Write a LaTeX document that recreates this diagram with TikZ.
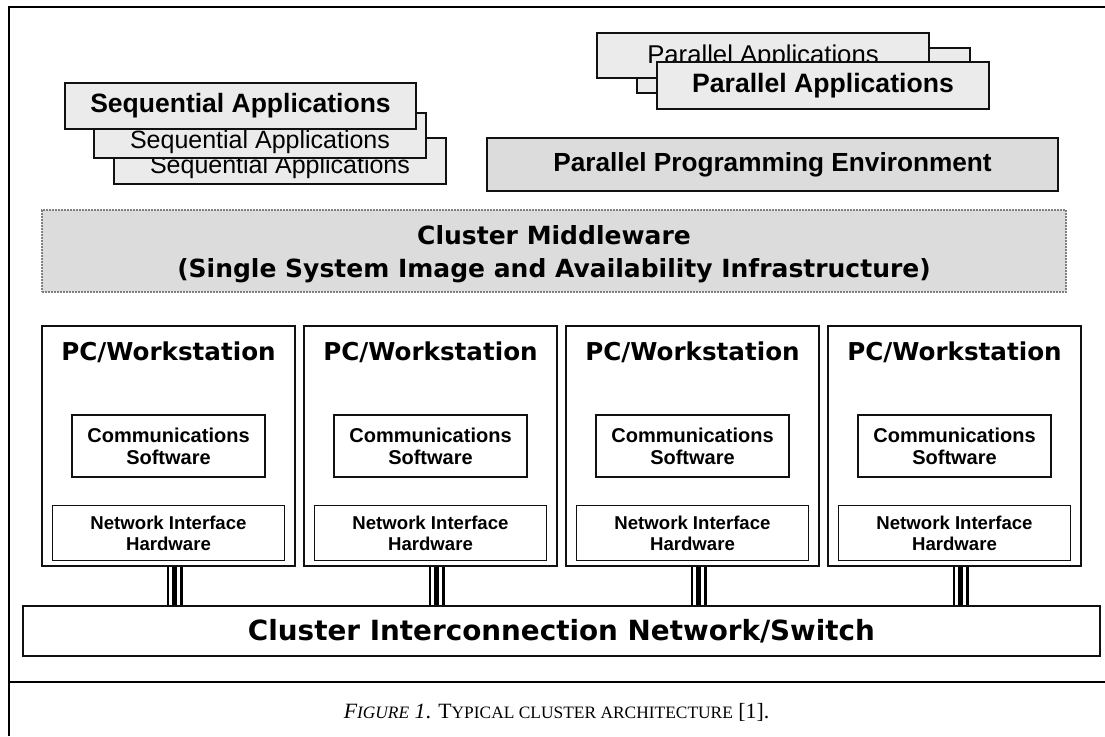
\documentclass[tikz,border=0pt]{standalone}
\usepackage{fontspec}
\setmainfont{Liberation Sans}
\newfontfamily\tahoma{DejaVu Sans}
\newfontfamily\timesf{Liberation Serif}
\definecolor{lightfill}{HTML}{EBEBEB}
\definecolor{midfill}{HTML}{DCDCDC}
\definecolor{edge}{HTML}{111111}
\definecolor{mwedge}{HTML}{808080}
\newcommand\fsz[1]{\fontsize{#1}{#1}\selectfont}
\newcommand\capsz[1]{{\fsz{17.4}#1}}
\tikzset{
  appbox/.style={draw=edge, line width=1.6pt, fill=lightfill, inner sep=0pt, align=center},
  envbox/.style={draw=edge, line width=1.6pt, fill=midfill, inner sep=0pt, align=center},
  mwbox/.style={draw=mwedge, line width=1.3pt, dash pattern=on 2pt off 1pt, fill=midfill, inner sep=0pt, align=center},
  pcbox/.style={draw=edge, line width=1.5pt, fill=white, minimum width=253pt, minimum height=240pt, inner sep=0pt},
  csbox/.style={draw=edge, line width=1.5pt, fill=white, minimum width=193pt, minimum height=62pt, inner sep=0pt, align=center, font=\bfseries\fsz{20}, text depth=0pt},
  nibox/.style={draw=edge, line width=1.5pt, fill=white, minimum width=232pt, minimum height=55pt, inner sep=0pt, align=center, font=\bfseries\fsz{18.6}},
  pctitle/.style={font=\tahoma\bfseries\fsz{24.6}, inner sep=0pt},
  mwtext/.style={font=\tahoma\bfseries\fsz{25}, inner sep=0pt, anchor=base},
  apptext/.style={inner sep=0pt, anchor=base},
  frameline/.style={line width=2.6pt, black},
  busouter/.style={line width=16pt, black},
  businner/.style={line width=11pt, white},
  buscore/.style={line width=5pt, black},
}
\begin{document}
\begin{tikzpicture}[x=1pt,y=-1pt]
\useasboundingbox (0,0) rectangle (1105,736);
\fill[white] (0,0) rectangle (1105,736);
% frame
\coordinate (ftl) at (9,7);
\coordinate (ftr) at (1105,7);
\coordinate (fbl) at (9,736);
\coordinate (fdl) at (9,682);
\coordinate (fdr) at (1105,682);
\draw[frameline] (fbl) -- (ftl) -- (ftr);
\draw[frameline] (fdl) -- (fdr);

% Sequential applications stack
\node[appbox, minimum width=332pt, minimum height=46pt] (seq3) at (280,161) {};
\node[apptext, font=\fsz{25}] (seq3t) at (280,173) {Sequential Applications};
\node[appbox, minimum width=332pt, minimum height=45pt] (seq2) at (260,135.5) {};
\node[apptext, font=\fsz{25}] (seq2t) at (260,148) {Sequential Applications};
\node[appbox, minimum width=351pt, minimum height=46pt, font=\bfseries\fsz{26.5}] (seq1) at (240.5,106) {Sequential Applications};

% Parallel applications stack
\node[appbox, minimum width=333pt, minimum height=45pt] (par2) at (803.5,70.5) {};
\node[appbox, minimum width=332pt, minimum height=45pt] (par3) at (763,55.5) {};
\node[apptext, font=\fsz{25.7}] (par3t) at (763,63) {Parallel Applications};
\node[appbox, minimum width=332pt, minimum height=47pt, font=\bfseries\fsz{26.6}] (par1) at (823,85.5) {Parallel Applications};

% Parallel programming environment
\node[envbox, minimum width=571pt, minimum height=53pt, font=\bfseries\fsz{26.2}] (ppe) at (772.5,164.5) {Parallel Programming Environment};

% Middleware
\node[mwbox, minimum width=1024pt, minimum height=82pt] (mw) at (554,251) {};
\node[mwtext] (mw1) at (554,244) {Cluster Middleware};
\node[mwtext] (mw2) at (554,277) {(Single System Image and Availability Infrastructure)};

% PC workstations
\foreach \i/\xl in {1/42,2/304,3/566,4/828}{
  \node[pcbox] (pc\i) at (\xl+126.5,446) {};
  \node[pctitle] (pct\i) at (\xl+126.5,352) {PC/Workstation};
  \node[csbox] (cs\i) at (\xl+126.5,446) {Communications\\[2pt]Software};
  \node[nibox] (ni\i) at (\xl+126.5,533) {Network Interface\\[2.5pt]Hardware};
}

% Network
\node[draw=edge, line width=1.8pt, fill=white, minimum width=1077pt, minimum height=50pt, inner sep=0pt, font=\tahoma\bfseries\fsz{27.8}] (net) at (561.5,631) {Cluster Interconnection Network/Switch};

% bus connectors
\foreach \i in {1,2,3,4}{
  \draw[busouter] ([xshift=6pt]pc\i.south) -- ([xshift=6pt]pc\i.south |- net.north);
  \draw[businner] ([xshift=6pt]pc\i.south) -- ([xshift=6pt]pc\i.south |- net.north);
  \draw[buscore] ([xshift=6pt]pc\i.south) -- ([xshift=6pt]pc\i.south |- net.north);
}

% caption
\node[font=\timesf\fsz{21.8}, inner sep=0pt, anchor=base] (cap) at (556.5,718) {{\itshape F\capsz{IGURE} 1}. T\capsz{YPICAL CLUSTER ARCHITECTURE} [1].};
\end{tikzpicture}
\end{document}
